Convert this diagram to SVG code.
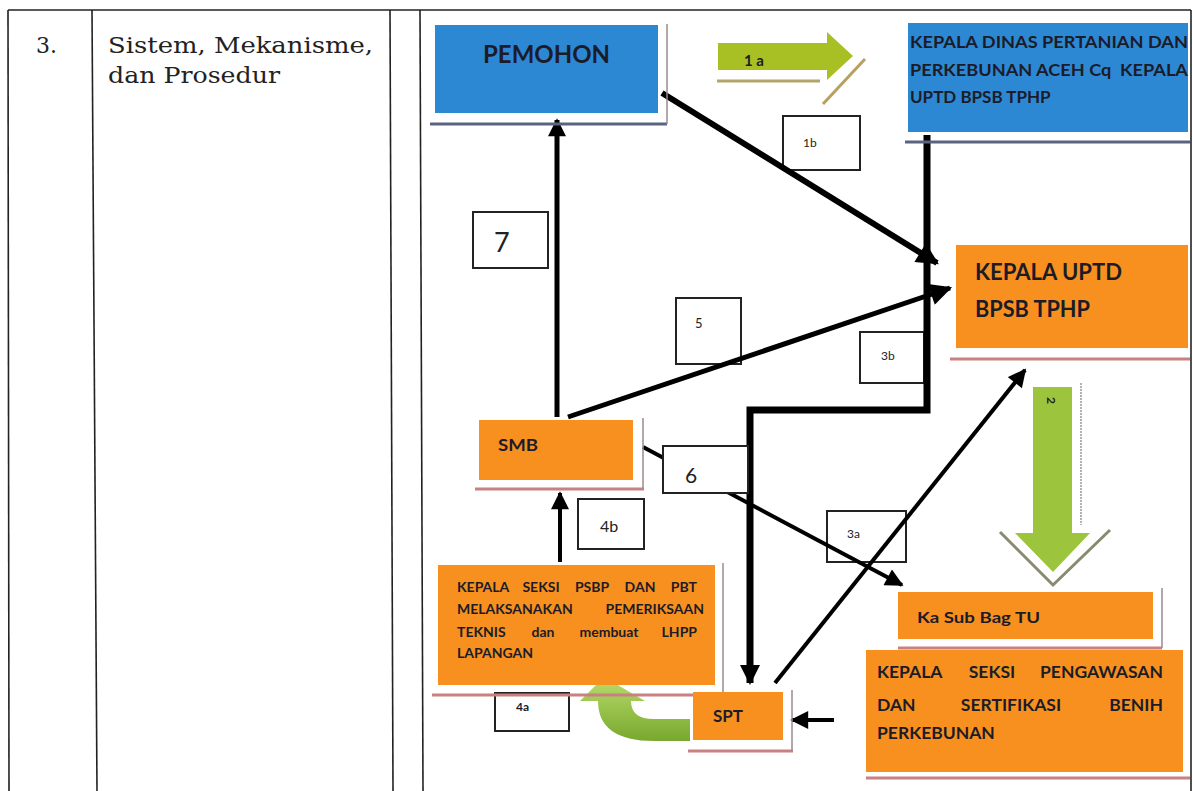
<svg xmlns="http://www.w3.org/2000/svg" width="1193" height="791" viewBox="0 0 1193 791">
<style>
.tbl{stroke:#222;stroke-width:1.6;fill:none}
.serif{font-family:"DejaVu Serif","Liberation Serif",serif;fill:#222}
.t{font-family:Lato,"Open Sans","Liberation Sans",sans-serif;font-weight:bold;fill:#1c1c28}
.lbl{fill:#fff;stroke:#222;stroke-width:2}
.ln{font-family:Lato,"Open Sans","Liberation Sans",sans-serif;fill:#222}
.blue{fill:#2d88d4}
.orange{fill:#f7901f}
.shb{stroke:#5a6480;stroke-width:3}
.sho{stroke:#c98080;stroke-width:3}
.shv{stroke:#9a8a90;stroke-width:1.5}
.c{stroke:#000;fill:none}
</style>
<defs>
<marker id="big" viewBox="0 0 10 10" refX="9" refY="5" markerUnits="userSpaceOnUse" markerWidth="24" markerHeight="22" orient="auto"><path d="M0,0 L10,5 L0,10 z" fill="#000"/></marker>
<marker id="mid" viewBox="0 0 10 10" refX="9" refY="5" markerUnits="userSpaceOnUse" markerWidth="19" markerHeight="18" orient="auto"><path d="M0,0 L10,5 L0,10 z" fill="#000"/></marker>
<marker id="zig" viewBox="0 0 10 10" refX="9" refY="5" markerUnits="userSpaceOnUse" markerWidth="20" markerHeight="22" orient="auto"><path d="M0,0 L10,5 L0,10 z" fill="#000"/></marker>
<linearGradient id="gc" x1="0" y1="0" x2="0" y2="1"><stop offset="0" stop-color="#b9dc6c"/><stop offset="1" stop-color="#78a82e"/></linearGradient>
</defs>
<rect width="1193" height="791" fill="#fff"/>
<g id="table">
<line class="tbl" x1="8" y1="10" x2="1191" y2="10"/>
<line class="tbl" x1="8" y1="10" x2="9" y2="791"/>
<line class="tbl" x1="92" y1="10" x2="97" y2="791"/>
<line class="tbl" x1="390" y1="10" x2="393" y2="791"/>
<line class="tbl" x1="420" y1="10" x2="423" y2="791"/>
<line class="tbl" x1="1191" y1="10" x2="1191" y2="791"/>
<text class="serif" x="36" y="53" font-size="22">3.</text>
<text class="serif" x="108" y="53" font-size="22" textLength="265" lengthAdjust="spacingAndGlyphs">Sistem, Mekanisme,</text>
<text class="serif" x="108" y="83" font-size="22" textLength="172" lengthAdjust="spacingAndGlyphs">dan Prosedur</text>
</g>
<g id="labels">
<g id="lbl-1b"><rect class="lbl" x="783" y="116" width="77" height="54"/><text class="ln" x="803" y="147" font-size="12">1b</text></g>
<g id="lbl-7"><rect class="lbl" x="473" y="212" width="75" height="56"/><text class="ln" x="494" y="252" font-size="27">7</text></g>
<g id="lbl-5"><rect class="lbl" x="676" y="298" width="65" height="66"/><text class="ln" x="695" y="328" font-size="13">5</text></g>
<g id="lbl-3b"><rect class="lbl" x="860" y="332" width="64" height="51"/><text class="ln" x="881" y="360" font-size="12">3b</text></g>
<g id="lbl-4b"><rect class="lbl" x="578" y="499" width="66" height="50"/><text class="ln" x="600" y="532" font-size="16">4b</text></g>
<g id="lbl-3a"><rect class="lbl" x="827" y="511" width="79" height="51"/><text class="ln" x="847" y="538" font-size="12">3a</text></g>
<g id="lbl-4a"><rect class="lbl" x="495" y="693" width="74" height="38"/><text class="t" x="516" y="711" font-size="12">4a</text></g>
</g>
<g id="connectors">
<line class="c" x1="662" y1="93" x2="937" y2="263" stroke-width="6" marker-end="url(#big)"/>
<line class="c" x1="557" y1="417" x2="557" y2="120" stroke-width="5" marker-end="url(#mid)"/>
<line class="c" x1="568" y1="417" x2="950" y2="288" stroke-width="5" marker-end="url(#big)"/>
<line class="c" x1="643" y1="447" x2="902" y2="585" stroke-width="4" marker-end="url(#mid)"/>
<line class="c" x1="560" y1="562" x2="560" y2="493" stroke-width="4" marker-end="url(#mid)"/>
<line class="c" x1="775" y1="683" x2="1025" y2="370" stroke-width="4" marker-end="url(#mid)"/>
<polyline class="c" points="927,135 927,410 750,410 750,683" stroke-width="7" marker-end="url(#zig)"/>
<line class="c" x1="834" y1="720" x2="792" y2="720" stroke-width="4" marker-end="url(#mid)"/>
</g>
<g id="lbl-6"><rect class="lbl" x="663" y="446" width="85" height="47"/><text class="ln" x="685" y="483" font-size="21">6</text></g>
<g id="arrow-1a">
<line x1="717" y1="81" x2="820" y2="81" stroke="#b3a46c" stroke-width="3"/>
<line x1="865" y1="59" x2="823" y2="104" stroke="#b8a060" stroke-width="3"/>
<polygon points="718,43 827,43 827,32 853,56 827,80 827,70 718,70" fill="#a9c024"/>
<text class="t" x="744" y="66" font-size="15" fill="#222">1 a</text>
</g>
<g id="arrow-2">
<line x1="1081" y1="383" x2="1081" y2="525" stroke="#999" stroke-width="1.5" stroke-dasharray="2,1"/>
<polyline points="1000,532 1053,585 1110,530" fill="none" stroke="#8a8a70" stroke-width="3"/>
<polygon points="1033,387 1072,387 1072,533 1090,533 1053,572 1015,533 1033,533" fill="#9cc43c"/>
<text class="t" x="1047" y="397" font-size="12" transform="rotate(90 1047 397)">2</text>
</g>
<g id="arrow-4a">
<path d="M690,719 L654,719 Q631,719 631,701 L645,701 L604,677 L580,701 L598,701 Q598,741 654,741 L690,741 Z" fill="url(#gc)"/>
</g>
<g id="pemohon">
<line class="shb" x1="430" y1="124" x2="667" y2="124"/>
<line class="shv" x1="667" y1="24" x2="667" y2="124"/>
<rect class="blue" x="435" y="25" width="223" height="88"/>
<text class="t" x="483" y="63" font-size="25" textLength="127" lengthAdjust="spacingAndGlyphs">PEMOHON</text>
</g>
<g id="kepala-dinas">
<line class="shb" x1="905" y1="142" x2="1190" y2="142"/>
<rect class="blue" x="908" y="23" width="280" height="109"/>
<text class="t" x="910" y="48" font-size="17" textLength="278" lengthAdjust="spacingAndGlyphs">KEPALA DINAS PERTANIAN DAN</text>
<text class="t" x="910" y="76" font-size="17" textLength="278" lengthAdjust="spacingAndGlyphs" xml:space="preserve">PERKEBUNAN ACEH Cq  KEPALA</text>
<text class="t" x="910" y="103" font-size="17">UPTD BPSB TPHP</text>
</g>
<g id="kepala-uptd">
<line class="sho" x1="950" y1="359" x2="1190" y2="359"/>
<rect class="orange" x="956" y="245" width="232" height="103"/>
<text class="t" x="975" y="280" font-size="22" textLength="147" lengthAdjust="spacingAndGlyphs">KEPALA UPTD</text>
<text class="t" x="975" y="317" font-size="22" textLength="115" lengthAdjust="spacingAndGlyphs">BPSB TPHP</text>
</g>
<g id="smb">
<line class="sho" x1="475" y1="489" x2="644" y2="489"/>
<line class="shv" x1="643" y1="418" x2="643" y2="489"/>
<rect class="orange" x="479" y="420" width="154" height="60"/>
<text class="t" x="498" y="451" font-size="17" textLength="40" lengthAdjust="spacingAndGlyphs">SMB</text>
</g>
<g id="kepala-seksi-psbp">
<line class="sho" x1="432" y1="695" x2="725" y2="695"/>
<line class="shv" x1="723" y1="563" x2="723" y2="695"/>
<rect class="orange" x="438" y="565" width="277" height="120"/>
<g class="t" font-size="14">
<text x="457" y="592">KEPALA</text>
<text x="541" y="592" text-anchor="middle">SEKSI</text>
<text x="592" y="592" text-anchor="middle">PSBP</text>
<text x="640" y="592" text-anchor="middle">DAN</text>
<text x="697" y="592" text-anchor="end">PBT</text>
<text x="457" y="614">MELAKSANAKAN</text>
<text x="704" y="614" text-anchor="end">PEMERIKSAAN</text>
<text x="457" y="637">TEKNIS</text>
<text x="543" y="637" text-anchor="middle">dan</text>
<text x="609" y="637" text-anchor="middle">membuat</text>
<text x="697" y="637" text-anchor="end">LHPP</text>
<text x="457" y="658">LAPANGAN</text>
</g>
</g>
<g id="spt">
<line class="sho" x1="688" y1="751" x2="793" y2="751"/>
<line class="shv" x1="792" y1="690" x2="792" y2="751"/>
<rect class="orange" x="693" y="692" width="90" height="48"/>
<text class="t" x="713" y="722" font-size="17" textLength="30" lengthAdjust="spacingAndGlyphs">SPT</text>
</g>
<g id="ka-sub-bag-tu">
<line class="sho" x1="898" y1="648" x2="1162" y2="648"/>
<line class="shv" x1="1162" y1="588" x2="1162" y2="648"/>
<rect class="orange" x="898" y="592" width="255" height="47"/>
<text class="t" x="917" y="623" font-size="16" textLength="123" lengthAdjust="spacingAndGlyphs">Ka Sub Bag TU</text>
</g>
<g id="kepala-seksi-pengawasan">
<line class="sho" x1="866" y1="778" x2="1190" y2="778"/>
<rect class="orange" x="866" y="650" width="317" height="122"/>
<g class="t" font-size="17.5">
<text x="877" y="678">KEPALA</text>
<text x="992" y="678" text-anchor="middle">SEKSI</text>
<text x="1163" y="678" text-anchor="end">PENGAWASAN</text>
<text x="877" y="711">DAN</text>
<text x="1011" y="711" text-anchor="middle">SERTIFIKASI</text>
<text x="1163" y="711" text-anchor="end">BENIH</text>
<text x="877" y="739">PERKEBUNAN</text>
</g>
</g>
</svg>
